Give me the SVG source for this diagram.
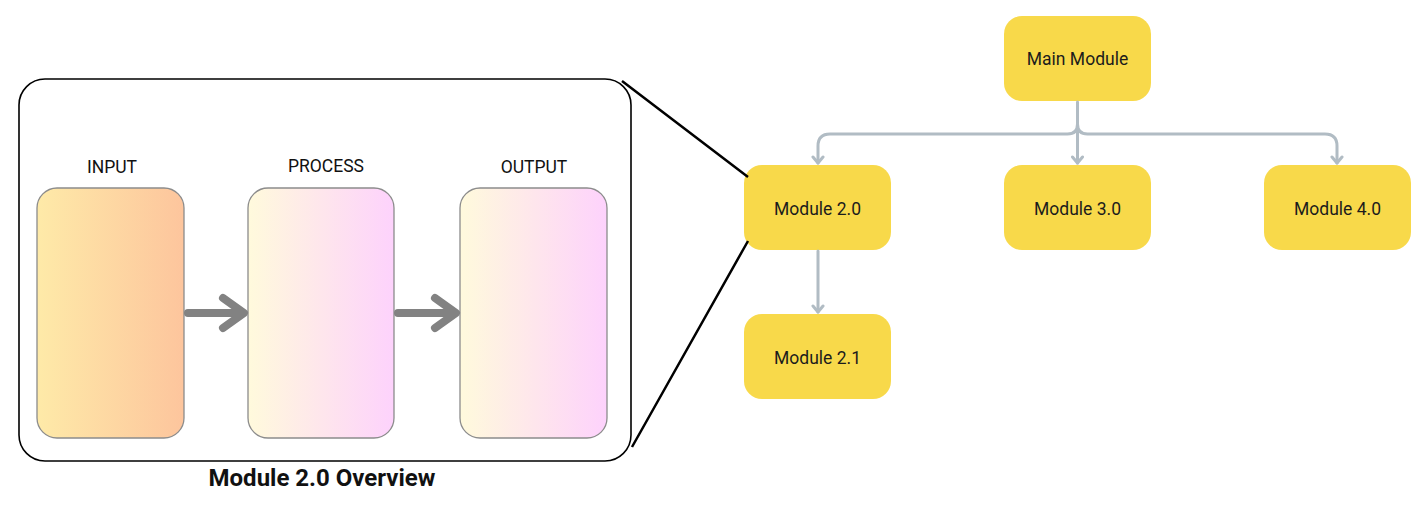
<svg xmlns="http://www.w3.org/2000/svg" width="1427" height="520" viewBox="0 0 1427 520">
<defs>
<linearGradient id="gIn" x1="0" y1="0" x2="1" y2="0"><stop offset="0" stop-color="#feeaa8"/><stop offset="1" stop-color="#fdc59d"/></linearGradient>
<linearGradient id="gPr" x1="0" y1="0" x2="1" y2="0"><stop offset="0" stop-color="#fffadc"/><stop offset="1" stop-color="#fdd2fc"/></linearGradient>
<style>
.node rect{fill:#f8d94a;}
.node text{font-family:Roboto,Inter,"Liberation Sans",sans-serif;font-size:17.5px;fill:#1c1c1c;text-anchor:middle;}
.stage rect{stroke:#8c8c8c;stroke-width:1.3;}
.lbl{font-family:Roboto,"Liberation Sans",sans-serif;font-size:17.5px;fill:#111;text-anchor:middle;}
.conn{fill:none;stroke:#b1bcc4;stroke-width:3;stroke-linecap:round;stroke-linejoin:round;}
.flow{fill:none;stroke:#828282;stroke-width:8;stroke-linecap:round;stroke-linejoin:round;}
.zoom{fill:none;stroke:#000;stroke-width:2.5;}
</style>
</defs>
<rect width="1427" height="520" fill="#fff"/>

<g id="overview">
<rect x="19" y="79" width="612" height="382" rx="26" fill="#fff" stroke="#000" stroke-width="1.6"/>
<text x="322" y="486" font-family="Roboto,Inter,'Liberation Sans',sans-serif" font-size="24" font-weight="bold" fill="#111" text-anchor="middle">Module 2.0 Overview</text>
</g>
<g id="input" class="stage">
<rect x="37" y="188" width="147" height="250" rx="20" fill="url(#gIn)"/>
<text class="lbl" x="112" y="173">INPUT</text>
</g>
<g id="process" class="stage">
<rect x="248" y="188" width="146" height="250" rx="20" fill="url(#gPr)"/>
<text class="lbl" x="326" y="172">PROCESS</text>
</g>
<g id="output" class="stage">
<rect x="460" y="188" width="147" height="250" rx="20" fill="url(#gPr)"/>
<text class="lbl" x="534" y="173">OUTPUT</text>
</g>

<g id="main" class="node"><rect x="1004" y="16" width="147" height="85" rx="18"/><text x="1077.5" y="65">Main Module</text></g>
<g id="m20" class="node"><rect x="744" y="165" width="147" height="85" rx="18"/><text x="817.5" y="215">Module 2.0</text></g>
<g id="m30" class="node"><rect x="1004" y="165" width="147" height="85" rx="18"/><text x="1077.5" y="215">Module 3.0</text></g>
<g id="m40" class="node"><rect x="1264" y="165" width="147" height="85" rx="18"/><text x="1337.5" y="215">Module 4.0</text></g>
<g id="m21" class="node"><rect x="744" y="314" width="147" height="85" rx="18"/><text x="817.5" y="364">Module 2.1</text></g>

<g id="connectors">
<path class="zoom" d="M622,81 L748,177 M632,447 L748,241"/>
<path class="flow" d="M188,313 H243 M223,298 L244,313 L223,328"/>
<path class="flow" d="M398,313 H455 M435,298 L456,313 L435,328"/>
<path class="conn" d="M1077.5,102 V124 Q1077.5,134 1067.5,134 H830 Q818,134 818,146 V163"/>
<path class="conn" d="M1077.5,124 Q1077.5,134 1087.5,134 H1325 Q1337,134 1337,146 V163"/>
<path class="conn" d="M1077.5,124 V163"/>
<path class="conn" d="M818,251 V312"/>
<path class="conn" d="M813,157 L818,163 L823,157 M1072.5,157 L1077.5,163 L1082.5,157 M1332,157 L1337,163 L1342,157 M813,306 L818,312 L823,306"/>
</g>
</svg>
